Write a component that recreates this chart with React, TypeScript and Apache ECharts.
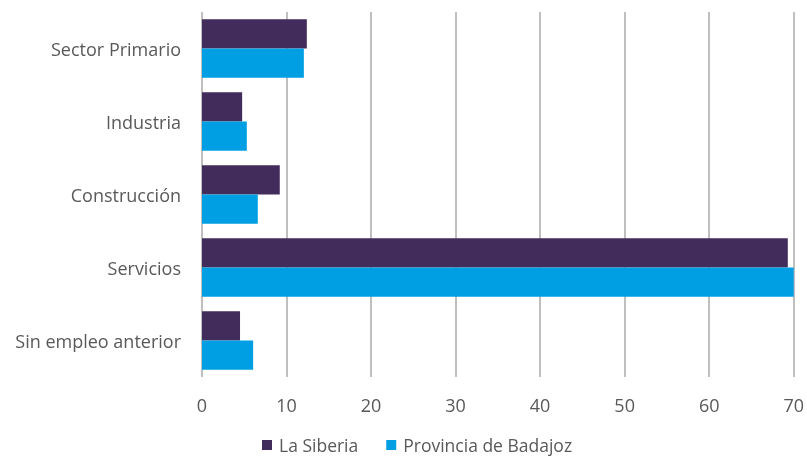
import React, { useEffect, useRef } from "react";
import * as echarts from "echarts";

const categories = ["Sector Primario", "Industria", "Construcción", "Servicios", "Sin empleo anterior"];
const laSiberia = [12.4, 4.75, 9.2, 69.3, 4.5];
const badajoz = [12.05, 5.3, 6.6, 70.0, 6.05];
const seriesNames = ["La Siberia", "Provincia de Badajoz"];
const xTicks = { min: 0, max: 70, interval: 10 };

export default function App() {
  const ref = useRef<HTMLDivElement>(null);
  useEffect(() => {
    const chart = echarts.init(ref.current!, null, { renderer: "svg" });
    const font = "'Open Sans', sans-serif";
    chart.setOption({
      animation: false,
      textStyle: { fontFamily: font },
      grid: { left: 202, right: 11, top: 12, bottom: 82, containLabel: false },
      legend: {
        top: 435,
        left: 262,
        padding: 0,
        itemWidth: 10,
        itemHeight: 10,
        itemGap: 28,
        icon: "rect",
        textStyle: { fontSize: 17.5, lineHeight: 20, color: "#595959", fontFamily: font, padding: [0, 0, 0, 2] },
        data: seriesNames,
      },
      xAxis: {
        type: "value",
        min: xTicks.min,
        max: xTicks.max,
        interval: xTicks.interval,
        axisLine: { show: false },
        axisTick: { show: false },
        axisLabel: { fontSize: 18, color: "#595959", margin: 19, fontFamily: font },
        splitLine: { lineStyle: { color: "#bfbfbf", width: 2 } },
      },
      yAxis: {
        type: "category",
        data: categories,
        inverse: true,
        axisLine: { show: false },
        axisTick: { show: false },
        axisLabel: { fontSize: 18, color: "#595959", margin: 21, fontFamily: font },
      },
      series: [
        {
          name: seriesNames[0],
          type: "bar",
          data: laSiberia,
          itemStyle: { color: "#412c5b" },
          barCategoryGap: "20%",
          barGap: "0%",
        },
        {
          name: seriesNames[1],
          type: "bar",
          data: badajoz,
          itemStyle: { color: "#009fe3" },
          barCategoryGap: "20%",
          barGap: "0%",
        },
      ],
    });
    return () => chart.dispose();
  }, []);
  return <div ref={ref} style={{ position: "fixed", left: 0, top: 0, width: 807, height: 459 }} />;
}
